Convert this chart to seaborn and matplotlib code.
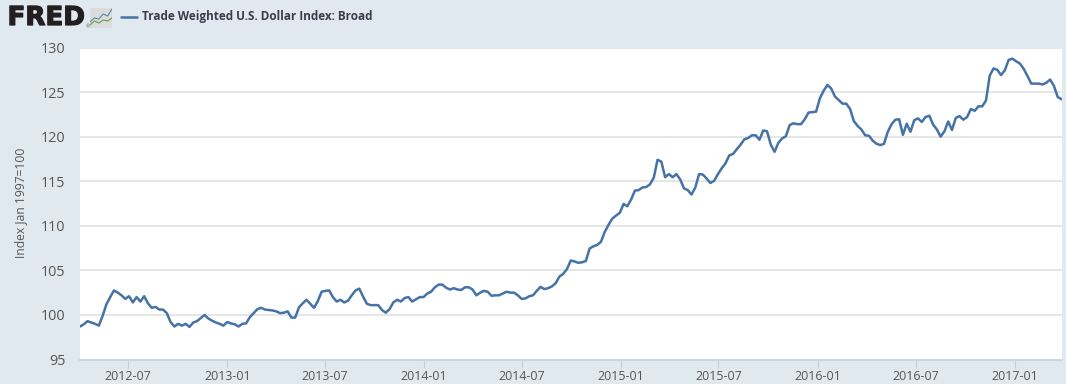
# -*- coding: utf-8 -*-
import pandas as pd
import seaborn as sns
from matplotlib import pyplot as plt
from matplotlib import patheffects

W, H = 1066, 384
BG = '#e1e9f0'
LINE = '#4572a7'
GRID = '#e6e6e6'

# weekly index values
vals_2012 = [98.7, 98.95, 99.3, 99.15, 99.0, 98.8, 99.9, 101.2, 102.0, 102.75, 102.5, 102.2,
             101.8, 102.1, 101.4, 102.0, 101.5, 102.1, 101.3, 100.8, 100.9, 100.6, 100.6,
             100.2, 99.2, 98.7, 99.0, 98.8, 99.0, 98.65, 99.15, 99.3, 99.65, 100.0, 99.6,
             99.35, 99.15, 99.0, 98.8, 99.2, 99.05, 98.95, 98.7, 99.0, 99.05]
vals_2013 = [99.75, 100.2, 100.65, 100.8, 100.6, 100.55, 100.5, 100.4, 100.2, 100.25, 100.4,
             99.7, 99.7, 100.85, 101.3, 101.7, 101.25, 100.8, 101.55, 102.6, 102.7, 102.75,
             102.0, 101.5, 101.7, 101.4, 101.6, 102.2, 102.75, 102.95, 102.05, 101.25, 101.1,
             101.1, 101.1, 100.55, 100.25, 100.65, 101.4, 101.7, 101.5, 101.9, 102.0, 101.5]
vals_2014 = [101.75, 102.0, 102.0, 102.4, 102.6, 103.1, 103.4, 103.4, 103.05, 102.85, 103.0,
             102.85, 102.8, 103.1, 103.1, 102.85, 102.2, 102.5, 102.7, 102.6, 102.15, 102.2,
             102.2, 102.4, 102.6, 102.5, 102.5, 102.2, 101.8, 101.85, 102.1, 102.2, 102.7,
             103.15, 102.9, 103.0, 103.2, 103.55, 104.3, 104.6, 105.15]
vals_2015 = [106.1, 106.0, 105.85, 105.9, 106.05, 107.45, 107.7, 107.85, 108.2, 109.3,
             110.1, 110.8, 111.15, 111.45, 112.45, 112.2, 112.95, 113.95, 114.0, 114.3, 114.35,
             114.65, 115.4, 117.4, 117.2, 115.45, 115.8, 115.45, 115.8, 115.2, 114.2, 114.0,
             113.5, 114.3, 115.8, 115.75, 115.3, 114.8, 115.05, 115.8, 116.45, 117.0, 117.9,
             118.05, 118.6]
vals_2016 = [119.1, 119.7, 119.85, 120.15, 120.15, 119.65, 120.7, 120.6, 119.1, 118.3, 119.3,
             119.8, 120.05, 121.3, 121.5, 121.4, 121.4, 121.95, 122.7, 122.75, 122.8, 124.3,
             125.15, 125.8, 125.4, 124.5, 124.1, 123.7, 123.7, 123.1, 121.75, 121.2, 120.8,
             120.15, 120.1, 119.55, 119.2, 119.05, 119.2, 120.55, 121.4, 121.9, 121.95]
vals_2017 = [120.2, 121.45, 120.55, 121.85, 122.05, 121.65, 122.2, 122.35, 121.35, 120.8, 120.0,
             120.6, 121.7, 120.75, 122.1, 122.3, 121.9, 122.2, 123.1, 122.9, 123.4, 123.4,
             124.05, 126.85, 127.65, 127.5, 126.9, 127.45, 128.6, 128.75, 128.45, 128.2, 127.6,
             126.8, 125.95, 125.95, 125.95, 125.85, 126.05, 126.4, 125.7, 124.45, 124.2]
yticks = [95, 100, 105, 110, 115, 120, 125, 130]
xticks = ['2012-07', '2013-01', '2013-07', '2014-01', '2014-07', '2015-01', '2015-07',
          '2016-01', '2016-07', '2017-01']

values = vals_2012 + vals_2013 + vals_2014 + vals_2015 + vals_2016 + vals_2017
dates = pd.date_range('2012-04-03', periods=len(values), freq='7D')
df = pd.DataFrame({'date': dates, 'value': values})

sns.set_theme(style='white')
plt.rcParams['font.family'] = ['Open Sans', 'DejaVu Sans']

fig = plt.figure(figsize=(W / 100, H / 100), dpi=100, facecolor=BG)
ax = fig.add_axes([80 / W, 1 - 359.5 / H, 982 / W, 312 / H], facecolor='white')

for y in yticks[1:]:
    ax.axhline(y, color=GRID, lw=1.4, zorder=1)
sns.lineplot(data=df, x='date', y='value', color=LINE, lw=1.8, ax=ax, zorder=3)

ax.set_xlim(pd.Timestamp('2012-04-03'), pd.Timestamp('2017-03-29'))
ax.set_ylim(95, 130)
ax.set_yticks(yticks)
ax.set_xticks(pd.to_datetime(xticks))
ax.set_xticklabels(xticks)
ax.set_xlabel('')
ax.set_ylabel('')
ax.tick_params(axis='y', length=0, labelsize=10.4, labelcolor='#555555', pad=10.5)
ax.tick_params(axis='x', length=5.8, width=0.8, color='#c0d0e0', labelsize=8.9,
               labelcolor='#555555', pad=1.5, bottom=True)
for side in ['top', 'right', 'left']:
    ax.spines[side].set_visible(False)
ax.spines['bottom'].set_color('#c0d0e0')
ax.spines['bottom'].set_linewidth(1.2)

fig.text(21 / W, 1 - 203 / H, 'Index Jan 1997=100', rotation=90, ha='center', va='center',
         fontsize=8.7, color='#555555')

# header: logo, icon, legend
logo = fig.text(7.5 / W, 1 - 18 / H, 'FRED', fontsize=18.8, fontweight='bold',
                family='DejaVu Sans', color='#231f20', ha='left', va='center')
logo.set_path_effects([patheffects.withStroke(linewidth=0.9, foreground='#231f20')])
fig.text(86 / W, 1 - 27 / H, '®', fontsize=3.5, color='#555555', ha='left', va='center')

icon = fig.add_axes([90 / W, 1 - 28 / H, 22 / W, 20 / H], facecolor='#dcdcdc')
icon.set_xticks([])
icon.set_yticks([])
for side in icon.spines:
    icon.spines[side].set_visible(False)
icon.plot([0, 2, 4, 6, 8, 10], [3, 5, 4.5, 7, 6, 9.5], color='#5b84a8', lw=0.8)
icon.plot([0, 2, 4, 6, 8, 10], [1.5, 3.5, 2.5, 4, 3.5, 5], color='#6f9a45', lw=0.8)
icon.set_xlim(0, 10)
icon.set_ylim(0, 10)

fig.add_artist(plt.Line2D([121 / W, 137 / W], [1 - 17 / H, 1 - 17 / H], color=LINE, lw=1.8))
fig.text(142 / W, 1 - 16.5 / H, 'Trade Weighted U.S. Dollar Index: Broad', fontsize=8.5,
         fontweight='bold', color='#3c3c4c', ha='left', va='center')

fig.savefig('out.png', dpi=100, facecolor=BG)
